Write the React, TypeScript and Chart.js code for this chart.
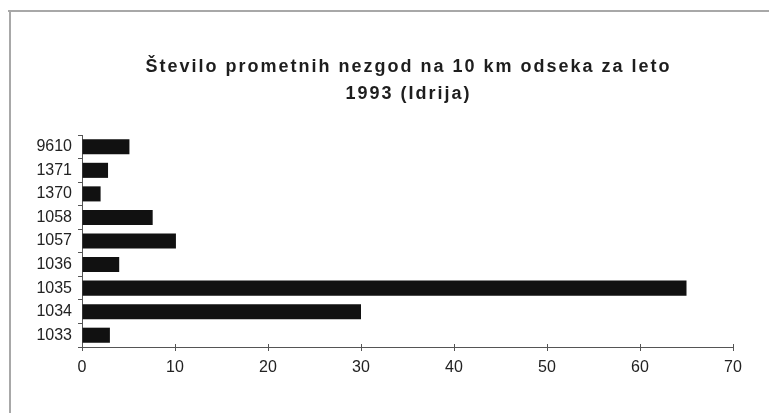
import React, { useEffect, useRef } from 'react';
import { Chart, registerables } from 'chart.js';

Chart.register(...registerables);

const categories = ['9610', '1371', '1370', '1058', '1057', '1036', '1035', '1034', '1033'];
const values = [5.1, 2.8, 2.0, 7.6, 10.1, 4.0, 65, 30, 3.0];
const titleLines = ['Število prometnih nezgod na 10 km odseka za leto', '1993 (Idrija)'];
const xMin = 0;
const xMax = 70;
const xStep = 10;

const FONT = '"Liberation Sans", Arial, sans-serif';

const framePlugin = {
  id: 'frameAndTitle',
  beforeDraw(chart: any) {
    const ctx = chart.ctx;
    ctx.save();
    ctx.fillStyle = '#ffffff';
    ctx.fillRect(0, 0, chart.width, chart.height);
    ctx.strokeStyle = '#a8a8a8';
    ctx.lineWidth = 2;
    ctx.beginPath();
    ctx.moveTo(8, 11);
    ctx.lineTo(chart.width, 11);
    ctx.moveTo(10, 11);
    ctx.lineTo(10, chart.height);
    ctx.stroke();
    ctx.restore();
  },
  afterDraw(chart: any) {
    const ctx = chart.ctx;
    const area = chart.chartArea;
    const cx = (area.left + area.right) / 2;
    ctx.save();
    ctx.fillStyle = '#1e1e1e';
    ctx.font = `bold 18px ${FONT}`;
    (ctx as any).letterSpacing = '2px';
    ctx.textAlign = 'center';
    ctx.textBaseline = 'middle';
    ctx.fillText(titleLines[0], cx + 1, 67.5);
    ctx.fillText(titleLines[1], cx + 1, 94.5);
    ctx.restore();
    // cross tick marks above x axis
    const xs = chart.scales.x;
    ctx.save();
    ctx.strokeStyle = '#555';
    ctx.lineWidth = 1;
    ctx.beginPath();
    for (let v = xMin; v <= xMax; v += xStep) {
      const px = Math.round(xs.getPixelForValue(v)) + 0.5;
      ctx.moveTo(px, area.bottom - 3);
      ctx.lineTo(px, area.bottom);
    }
    ctx.stroke();
    ctx.restore();
  },
};

export default function App() {
  const ref = useRef<HTMLCanvasElement | null>(null);
  useEffect(() => {
    if (!ref.current) return;
    const chart = new Chart(ref.current, {
      type: 'bar',
      data: {
        labels: categories,
        datasets: [
          {
            data: values,
            backgroundColor: '#111111',
            borderColor: '#000000',
            borderWidth: 0,
            barPercentage: 0.64,
            categoryPercentage: 1,
          },
        ],
      },
      options: {
        indexAxis: 'y',
        animation: false,
        responsive: false,
        maintainAspectRatio: false,
        layout: { padding: { top: 135, right: 36, bottom: 0, left: 0 } },
        plugins: {
          legend: { display: false },
          title: { display: false },
          tooltip: { enabled: false },
        },
        scales: {
          x: {
            type: 'linear',
            min: xMin,
            max: xMax,
            ticks: {
              stepSize: xStep,
              color: '#222',
              font: { family: FONT, size: 16 },
              padding: 7,
              maxRotation: 0,
            },
            grid: {
              drawOnChartArea: false,
              drawTicks: true,
              tickLength: 4,
              color: '#555',
            },
            border: { display: true, color: '#555', width: 1 },
            afterFit(scale: any) {
              scale.height = 66;
            },
          },
          y: {
            type: 'category',
            ticks: {
              color: '#222',
              font: { family: FONT, size: 16 },
              padding: 6,
              autoSkip: false,
            },
            grid: {
              offset: true,
              drawOnChartArea: false,
              drawTicks: true,
              tickLength: 4,
              color: '#555',
            },
            border: { display: true, color: '#555', width: 1 },
            afterFit(scale: any) {
              scale.width = 82;
            },
          },
        },
      },
      plugins: [framePlugin],
    } as any);
    return () => chart.destroy();
  }, []);
  return (
    <div style={{ position: 'absolute', left: 0, top: 0, width: 769, height: 413 }}>
      <canvas ref={ref} width={769} height={413} style={{ width: 769, height: 413, display: 'block' }} />
    </div>
  );
}
